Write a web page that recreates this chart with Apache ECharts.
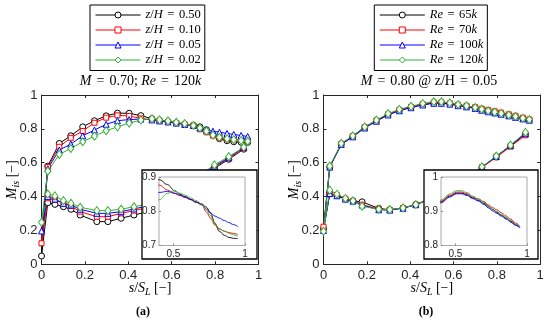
<!DOCTYPE html>
<html><head><meta charset="utf-8">
<script src="https://cdn.jsdelivr.net/npm/echarts@6/dist/echarts.min.js"></script>
<style>html,body{margin:0;padding:0;background:#fff}#c{width:550px;height:321px}</style>
</head><body><div id="c"></div>
<script>
// ---------- DATA ----------
// measurement tap positions s/S_L
const sSuction = [0.029, 0.082, 0.135, 0.19, 0.244, 0.298, 0.35, 0.404, 0.458, 0.509, 0.544, 0.583, 0.621, 0.66, 0.70, 0.73, 0.76, 0.79, 0.82, 0.855, 0.886, 0.92, 0.95];
const sPressure = [0.029, 0.062, 0.101, 0.136, 0.178, 0.255, 0.306, 0.367, 0.426, 0.487, 0.548, 0.609, 0.67, 0.731, 0.797, 0.863, 0.932];

// panel (a): M = 0.70; Re = 120k
const aNames = ['z/H = 0.50', 'z/H = 0.10', 'z/H = 0.05', 'z/H = 0.02'];
const aStag = [0.049, 0.124, 0.197, 0.248];
const aSuc050 = [0.58, 0.714, 0.759, 0.812, 0.848, 0.877, 0.893, 0.892, 0.878, 0.86, 0.85, 0.843, 0.835, 0.827, 0.821, 0.812, 0.795, 0.765, 0.742, 0.73, 0.724, 0.721, 0.72];
const aSuc010 = [0.575, 0.694, 0.747, 0.787, 0.836, 0.866, 0.88, 0.876, 0.862, 0.852, 0.846, 0.84, 0.834, 0.826, 0.818, 0.798, 0.78, 0.76, 0.748, 0.742, 0.738, 0.735, 0.732];
const aSuc005 = [0.565, 0.675, 0.71, 0.759, 0.793, 0.827, 0.848, 0.855, 0.858, 0.853, 0.847, 0.841, 0.834, 0.826, 0.82, 0.806, 0.795, 0.786, 0.78, 0.773, 0.767, 0.761, 0.755];
const aSuc002 = [0.55, 0.649, 0.684, 0.724, 0.757, 0.789, 0.812, 0.834, 0.852, 0.86, 0.853, 0.847, 0.839, 0.831, 0.82, 0.805, 0.787, 0.763, 0.75, 0.742, 0.736, 0.731, 0.727];
const aPre050 = [0.364, 0.354, 0.34, 0.325, 0.291, 0.252, 0.252, 0.272, 0.291, 0.31, 0.34, 0.38, 0.43, 0.5, 0.567, 0.62, 0.68];
const aPre010 = [0.39, 0.38, 0.36, 0.344, 0.311, 0.281, 0.281, 0.301, 0.317, 0.335, 0.36, 0.4, 0.45, 0.515, 0.575, 0.625, 0.682];
const aPre005 = [0.4, 0.385, 0.36, 0.35, 0.325, 0.301, 0.301, 0.311, 0.327, 0.345, 0.37, 0.41, 0.46, 0.52, 0.58, 0.63, 0.69];
const aPre002 = [0.415, 0.404, 0.376, 0.36, 0.337, 0.317, 0.317, 0.325, 0.34, 0.355, 0.38, 0.42, 0.47, 0.53, 0.587, 0.636, 0.692];

// panel (b): M = 0.80 @ z/H = 0.05
const bNames = ['Re = 65k', 'Re = 70k', 'Re = 100k', 'Re = 120k'];
const bStag = [0.21, 0.222, 0.2, 0.195];
const bSuc65 = [0.575, 0.71, 0.755, 0.808, 0.848, 0.884, 0.91, 0.928, 0.944, 0.953, 0.953, 0.948, 0.939, 0.932, 0.923, 0.914, 0.905, 0.897, 0.889, 0.88, 0.871, 0.861, 0.853];
const bSuc70 = [0.576, 0.712, 0.757, 0.81, 0.849, 0.886, 0.912, 0.93, 0.946, 0.956, 0.956, 0.951, 0.942, 0.936, 0.928, 0.919, 0.911, 0.904, 0.896, 0.886, 0.877, 0.866, 0.856];
const bSuc100 = [0.574, 0.708, 0.753, 0.805, 0.845, 0.882, 0.907, 0.925, 0.941, 0.951, 0.951, 0.946, 0.937, 0.93, 0.92, 0.91, 0.901, 0.894, 0.886, 0.877, 0.868, 0.859, 0.851];
const bSuc120 = [0.58, 0.714, 0.759, 0.812, 0.852, 0.89, 0.915, 0.933, 0.95, 0.96, 0.96, 0.954, 0.944, 0.936, 0.926, 0.916, 0.907, 0.899, 0.891, 0.882, 0.873, 0.863, 0.855];
const bPre65 = [0.42, 0.405, 0.385, 0.375, 0.369, 0.33, 0.322, 0.333, 0.353, 0.385, 0.42, 0.465, 0.52, 0.574, 0.636, 0.7, 0.77];
const bPre70 = [0.415, 0.408, 0.387, 0.374, 0.352, 0.327, 0.322, 0.332, 0.352, 0.384, 0.42, 0.463, 0.518, 0.572, 0.632, 0.695, 0.762];
const bPre100 = [0.418, 0.405, 0.385, 0.373, 0.35, 0.322, 0.32, 0.331, 0.352, 0.384, 0.419, 0.463, 0.518, 0.574, 0.637, 0.702, 0.772];
const bPre120 = [0.438, 0.414, 0.389, 0.375, 0.343, 0.325, 0.323, 0.333, 0.353, 0.385, 0.42, 0.465, 0.52, 0.576, 0.639, 0.704, 0.779];

const mainTicks = [0, 0.2, 0.4, 0.6, 0.8, 1];
const insetXTicks = [0.5, 1];
const aInsetYTicks = [0.7, 0.8, 0.9];
const bInsetYTicks = [0.8, 0.9, 1];

// ---------- STYLE ----------
const colors = ['#000000', '#ff0000', '#0000ff', '#33b033'];
const symbols = ['circle', 'rect', 'triangle', 'diamond'];
const symSizes = [6, 5, 6, [6, 8]];
const SERIF = "'Liberation Serif','Times New Roman',serif";
const SANS = "'Liberation Sans',Arial,Helvetica,sans-serif";
const AX = '#262626';

function loop(suc, stag, pre) {
  const d = [];
  for (let i = sSuction.length - 1; i >= 0; i--) d.push([sSuction[i], suc[i]]);
  d.push([0, stag]);
  for (let i = 0; i < sPressure.length; i++) d.push([sPressure[i], pre[i]]);
  return d;
}
function suctionPart(suc, from) {
  const d = [];
  for (let i = 0; i < sSuction.length; i++) if (sSuction[i] >= from) d.push([sSuction[i], suc[i]]);
  return d;
}

function rich(fs, eqPad) {
  return {
    i: {fontFamily: SERIF, fontStyle: 'italic', fontSize: fs, color: '#000'},
    u: {fontFamily: SERIF, fontSize: fs, color: '#000'},
    eq: {fontFamily: SERIF, fontSize: fs, color: '#000', padding: [0, eqPad, 0, eqPad]},
    sub: {fontFamily: SERIF, fontStyle: 'italic', fontSize: Math.round(fs * 0.7), color: '#000', verticalAlign: 'bottom', lineHeight: Math.round(fs * 0.7)}
  };
}

function mainAxes(gi) {
  const common = {
    gridIndex: gi, type: 'value', min: 0, max: 1, interval: 0.2,
    axisLine: {show: true, onZero: false, lineStyle: {color: AX, width: 1}},
    axisTick: {show: true, inside: true, length: 3, lineStyle: {color: AX}},
    splitLine: {show: false}
  };
  const xb = Object.assign({}, common, {position: 'bottom',
    axisLabel: {color: AX, fontFamily: SANS, fontSize: 13, margin: 5},
    name: '{i|s}/{i|S}{sub|L} [−]', nameLocation: 'middle', nameGap: 15, nameMoveOverlap: false,
    nameTextStyle: {fontFamily: SERIF, fontSize: 14, color: '#000', lineHeight: 18, rich: rich(14, 0)}});
  const xt = Object.assign({}, common, {position: 'top', axisLabel: {show: false}});
  const yl = Object.assign({}, common, {position: 'left',
    axisLabel: {color: AX, fontFamily: SANS, fontSize: 13, margin: 4},
    name: '{i|M}{sub|is} [−]', nameLocation: 'middle', nameGap: 20, nameMoveOverlap: false,
    nameTextStyle: {fontFamily: SERIF, fontSize: 14, color: '#000', lineHeight: 18, rich: rich(14, 0)}});
  const yr = Object.assign({}, common, {position: 'right', axisLabel: {show: false}});
  return {x: [xb, xt], y: [yl, yr]};
}
function insetAxes(gi, ymin, ymax, yTicks) {
  const x = {gridIndex: gi, type: 'value', min: 0.4, max: 1, z: 7,
    axisLine: {show: false, onZero: false},
    axisTick: {show: true, inside: true, length: 2, customValues: insetXTicks, lineStyle: {color: '#888'}},
    axisLabel: {color: AX, fontFamily: SANS, fontSize: 10, margin: 4, customValues: insetXTicks},
    splitLine: {show: false}};
  const y = {gridIndex: gi, type: 'value', min: ymin, max: ymax, z: 7,
    axisLine: {show: false, onZero: false},
    axisTick: {show: true, inside: true, length: 2, customValues: yTicks, lineStyle: {color: '#888'}},
    axisLabel: {color: AX, fontFamily: SANS, fontSize: 10, margin: 3, customValues: yTicks},
    splitLine: {show: false}};
  return {x, y};
}

const am = mainAxes(0), bm = mainAxes(2);
const ai = insetAxes(1, 0.7, 0.9, aInsetYTicks), bi = insetAxes(3, 0.8, 1, bInsetYTicks);
const xAxis = [am.x[0], am.x[1], ai.x, bm.x[0], bm.x[1], bi.x];
const yAxis = [am.y[0], am.y[1], ai.y, bm.y[0], bm.y[1], bi.y];

const series = [];
function addMain(names, sucs, stags, pres, xi, yi) {
  for (let k = 0; k < 4; k++) {
    series.push({type: 'line', name: names[k], xAxisIndex: xi, yAxisIndex: yi,
      data: loop(sucs[k], stags[k], pres[k]),
      symbol: symbols[k], symbolSize: symSizes[k], showAllSymbol: true,
      lineStyle: {color: colors[k], width: 1},
      itemStyle: {color: '#ffffff', borderColor: colors[k], borderWidth: 1},
      emphasis: {disabled: true},
      z: 2, animation: false});
  }
}
function addInset(names, sucs, xi, yi) {
  for (let k = 0; k < 4; k++) {
    series.push({type: 'line', name: names[k] + ' (inset)', xAxisIndex: xi, yAxisIndex: yi,
      data: suctionPart(sucs[k], 0.35), smooth: 0.4, smoothMonotone: 'x', symbol: 'none',
      lineStyle: {color: colors[k], width: 0.9}, itemStyle: {color: colors[k]}, clip: true,
      z: 8, animation: false});
  }
}
addMain(aNames, [aSuc050, aSuc010, aSuc005, aSuc002], aStag, [aPre050, aPre010, aPre005, aPre002], 0, 0);
addInset(aNames, [aSuc050, aSuc010, aSuc005, aSuc002], 2, 2);
addMain(bNames, [bSuc65, bSuc70, bSuc100, bSuc120], bStag, [bPre65, bPre70, bPre100, bPre120], 3, 3);
addInset(bNames, [bSuc65, bSuc70, bSuc100, bSuc120], 5, 5);

function legendFmt(name) {
  const p = name.split(' = ');
  const lhs = p[0] === 'z/H' ? '{i|z}/{i|H}' : '{i|Re}';
  const rhs = p[1].endsWith('k') ? p[1].slice(0, -1) + '{i|k}' : p[1];
  return lhs + '{eq|=}' + rhs;
}
function legend(names, left) {
  return {data: names, left: left, top: 5, orient: 'vertical', itemWidth: 45, itemHeight: 7.5, itemGap: 0,
    padding: [2.5, 4, 3, 5], borderColor: '#000', borderWidth: 1, backgroundColor: '#fff',
    selectedMode: false, formatter: legendFmt,
    lineStyle: {width: 1}, itemStyle: {borderWidth: 1},
    textStyle: {fontFamily: SERIF, fontSize: 12.5, lineHeight: 15, color: '#000', rich: rich(12.5, 4.5)}};
}

const option = {
  animation: false,
  backgroundColor: '#fff',
  grid: [
    {left: 41.5, top: 95, width: 217, height: 169.3},
    {left: 159, top: 177, width: 86, height: 68.5, show: true, backgroundColor: '#fff', borderColor: '#aaaaaa', borderWidth: 1, z: 6},
    {left: 323.5, top: 95, width: 216.7, height: 169.3},
    {left: 441, top: 177, width: 86, height: 68.5, show: true, backgroundColor: '#fff', borderColor: '#aaaaaa', borderWidth: 1, z: 6}
  ],
  xAxis: xAxis, yAxis: yAxis, series: series,
  legend: [legend(aNames, 90), legend(bNames, 374.3)],
  graphic: [
    {type: 'rect', z: 5, shape: {x: 142, y: 170, width: 115, height: 89}, style: {fill: '#fff', stroke: '#000', lineWidth: 1.3}},
    {type: 'rect', z: 5, shape: {x: 424, y: 170, width: 114, height: 89}, style: {fill: '#fff', stroke: '#000', lineWidth: 1.3}},
    {type: 'text', x: 140.5, y: 81, z: 10, style: {text: '{i|M}{eq|=}0.70; {i|Re}{eq|=}120{i|k}', align: 'center', verticalAlign: 'middle',
      fontFamily: SERIF, fontSize: 14, fill: '#000', rich: rich(14, 5)}},
    {type: 'text', x: 429, y: 81, z: 10, style: {text: '{i|M}{eq|=}0.80 @ z/H{eq|=}0.05', align: 'center', verticalAlign: 'middle',
      fontFamily: SERIF, fontSize: 14, fill: '#000', rich: rich(14, 5)}},
    {type: 'text', x: 143, y: 312, z: 10, style: {text: '(a)', align: 'center', verticalAlign: 'middle',
      fontFamily: SERIF, fontSize: 12, fontWeight: 'bold', fill: '#000'}},
    {type: 'text', x: 426, y: 312, z: 10, style: {text: '(b)', align: 'center', verticalAlign: 'middle',
      fontFamily: SERIF, fontSize: 12, fontWeight: 'bold', fill: '#000'}}
  ]
};
const chart = echarts.init(document.getElementById('c'));
chart.setOption(option);
</script></body></html>
